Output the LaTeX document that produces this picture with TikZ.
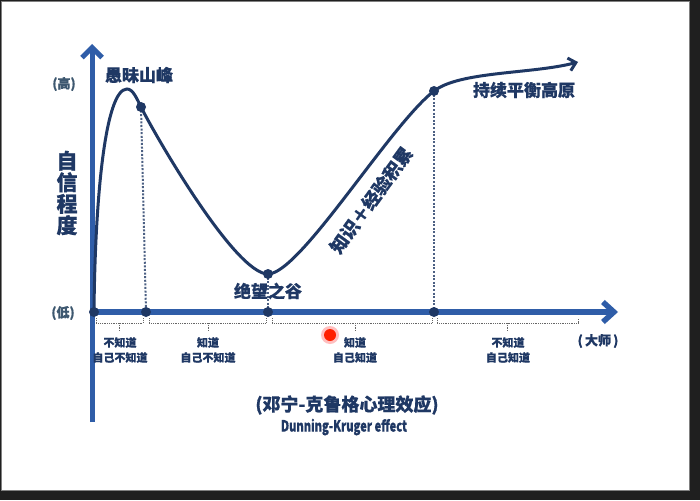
\documentclass[tikz,border=0pt]{standalone}
\usepackage{fontspec}
\newfontfamily\cjk{Noto Sans CJK SC}[BoldFeatures={FakeBold=0.6}]
\usetikzlibrary{arrows.meta}
\definecolor{axisblue}{HTML}{2F5DA8}
\definecolor{navy}{HTML}{1F3864}
\definecolor{greyblue}{HTML}{3E5870}
\tikzset{
  dot/.style={circle,fill=navy,inner sep=0pt,minimum size=10pt},
  lbl/.style={font=\cjk\bfseries\fontsize{17}{17}\selectfont,text=navy,inner sep=0pt},
  small/.style={font=\cjk\bfseries\fontsize{11}{15}\selectfont,text=navy,align=center,inner sep=0pt},
  level/.style={font=\cjk\bfseries\fontsize{13}{13}\selectfont,text=greyblue,inner sep=0pt},
  guide/.style={navy!80,line width=2pt,dash pattern=on 2pt off 1.6pt},
  brk/.style={gray!80!black,line width=0.8pt,densely dotted},
}

\begin{document}
\begin{tikzpicture}[x=1pt,y=-1pt]
% screen frame
\fill[black!88] (0,0) rectangle (700,500);
\fill[white,draw=gray] (1.5,1.5) rectangle (689,490);
\useasboundingbox (0,0) rectangle (700,500);

% axes
\draw[axisblue,line width=5pt,-{Straight Barb[length=10pt,width=20pt]}] (92,422) -- (92,44);
\draw[axisblue,line width=5.5pt,-{Straight Barb[length=11pt,width=20pt]}] (90,312) -- (618,312);

% points on the curve and on the axis
\coordinate (start) at (94,312);
\coordinate (top) at (127,89);
\coordinate (peak) at (141,107);
\coordinate (valley) at (268,274);
\coordinate (plat) at (434,91);
\coordinate (end) at (578,62);

% guides
\draw[guide] (peak) -- (146,312);
\draw[guide] (valley) -- (268,312);
\draw[guide] (plat) -- (434,312);

% curve
\draw[navy,line width=3pt,-{Straight Barb[length=7pt,width=13pt]}]
  (start) .. controls (95,200) and (105,89) .. (top)
  .. controls (133,89) and (137,99) .. (peak)
  .. controls (155,135) and (235,274) .. (valley)
  .. controls (300,274) and (390,125) .. (plat)
  .. controls (460,71) and (533,74) .. (end);

\node[dot] (c1) at (peak) {};
\node[dot] (c2) at (valley) {};
\node[dot] (c3) at (plat) {};
\node[dot] (a0) at (start) {};
\node[dot] (a1) at (146,312) {};
\node[dot] (a2) at (268,312) {};
\node[dot] (a3) at (434,312) {};

% brackets under the axis
\foreach \l/\r/\m in {96/143/119, 149/266/208, 272/432/355, 437/578/507}
  {
    \draw[brk] (\l,318) -- (\l,323) -- (\r,323) -- (\r,318);
    \draw[brk] (\m,323) -- (\m,331);
  }

% labels
\node[lbl] (fool) at (139,75) {愚昧山峰};
\node[lbl] (despair) at (268,291) {绝望之谷};
\node[lbl] (plateau) at (524,90) {持续平衡高原};
\node[lbl,font=\cjk\bfseries\fontsize{18}{18}\selectfont,rotate=54] (climb) at (371,200) {知识＋经验积累};
\node[font=\cjk\bfseries\fontsize{21}{21.5}\selectfont,text=navy,align=center,inner sep=0pt] (ylab) at (67,193) {自\\信\\程\\度};
\node[level] (hi) at (64,84) {(高)};
\node[level] (lo) at (63,313) {(低)};
\node[level,text=navy] (master) at (598,341) {(\,大师\,)};

\node[small] (s1) at (120,350) {不知道\\自己不知道};
\node[small] (s2) at (208,350) {知道\\自己不知道};
\node[small] (s3) at (355,350) {知道\\自己知道};
\node[small] (s4) at (508,350) {不知道\\自己知道};

\node[font=\cjk\bfseries\fontsize{18}{18}\selectfont,text=navy,inner sep=0pt] (title) at (347,405) {(邓宁-克鲁格心理效应)};
\node[font=\cjk\bfseries\fontsize{15.5}{15.5}\selectfont,text=navy,inner sep=0pt] (sub) at (344,427) {\scalebox{0.72}[1]{Dunning-Kruger effect}};

% pointer
\fill[red!25] (330,335) circle (9pt);
\fill[red!75!orange] (330,335) circle (6pt);
\end{tikzpicture}
\end{document}
